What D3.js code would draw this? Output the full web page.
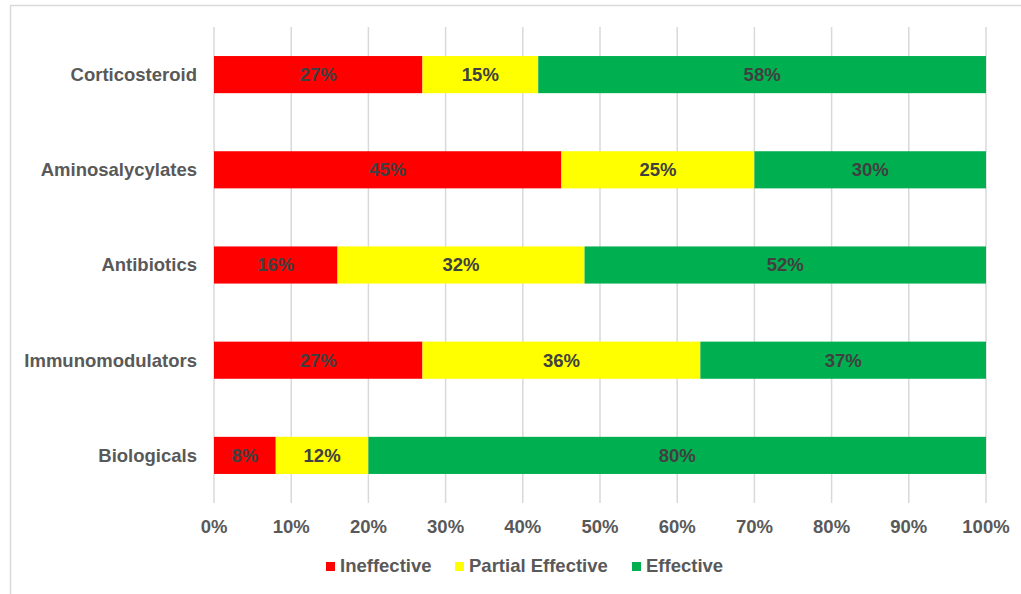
<!DOCTYPE html>
<html>
<head>
<meta charset="utf-8">
<script src="https://cdn.jsdelivr.net/npm/d3@7"></script>
<style>
  body { margin: 0; background: #fff; }
  text { font-family: "Liberation Sans", Arial, sans-serif; font-weight: bold; }
</style>
</head>
<body>
<svg id="chart"></svg>
<script>
const categories = ['Corticosteroid', 'Aminosalycylates', 'Antibiotics', 'Immunomodulators', 'Biologicals'];
const seriesNames = ['Ineffective', 'Partial Effective', 'Effective'];
const ineffective = [27, 45, 16, 27, 8];
const partial = [15, 25, 32, 36, 12];
const effective = [58, 30, 52, 37, 80];
const ticks = [0, 10, 20, 30, 40, 50, 60, 70, 80, 90, 100];
const colors = ['#ff0000', '#ffff00', '#00b050'];

const width = 1021;
const height = 594;
const plotLeft = 214, plotRight = 986, plotTop = 27, plotBottom = 503;
const fontSize = 18.5;

const svg = d3.select('#chart')
  .attr('width', width)
  .attr('height', height);

// frame (right and bottom edges fall outside the picture)
svg.append('rect')
  .attr('x', 10.5).attr('y', 5.5)
  .attr('width', 1030).attr('height', 600)
  .attr('fill', 'none')
  .attr('stroke', '#d9d9d9')
  .attr('stroke-width', 1.5);

const x = d3.scaleLinear().domain([0, 100]).range([plotLeft, plotRight]);
const y = d3.scaleBand().domain(categories).range([plotTop, plotBottom]).paddingInner(0.61).paddingOuter(0.305);

// gridlines
svg.append('g')
  .selectAll('line')
  .data(ticks)
  .enter()
  .append('line')
  .attr('x1', d => x(d)).attr('x2', d => x(d))
  .attr('y1', plotTop).attr('y2', plotBottom)
  .attr('stroke', '#d9d9d9')
  .attr('stroke-width', 1.5);

// tick labels
svg.append('g')
  .selectAll('text')
  .data(ticks)
  .enter()
  .append('text')
  .attr('x', d => x(d))
  .attr('y', 527)
  .attr('dy', '0.35em')
  .attr('text-anchor', 'middle')
  .attr('fill', '#595959')
  .attr('font-size', fontSize)
  .text(d => d + '%');

// stacks
const rows = categories.map((c, i) => ({ cat: c, v: [ineffective[i], partial[i], effective[i]] }));
rows.forEach(function (row) {
  let acc = 0;
  row.v.forEach(function (val, k) {
    const x0 = acc;
    acc += val;
    svg.append('rect')
      .attr('x', x(x0))
      .attr('y', y(row.cat))
      .attr('width', x(acc) - x(x0))
      .attr('height', y.bandwidth())
      .attr('fill', colors[k]);
    svg.append('text')
      .attr('x', (x(x0) + x(acc)) / 2)
      .attr('y', y(row.cat) + y.bandwidth() / 2)
      .attr('dy', '0.35em')
      .attr('text-anchor', 'middle')
      .attr('fill', '#404040')
      .attr('font-size', fontSize)
      .text(val + '%');
  });
});

// category labels
svg.append('g')
  .selectAll('text')
  .data(categories)
  .enter()
  .append('text')
  .attr('x', 197)
  .attr('y', d => y(d) + y.bandwidth() / 2)
  .attr('dy', '0.35em')
  .attr('text-anchor', 'end')
  .attr('fill', '#595959')
  .attr('font-size', fontSize)
  .text(d => d);

// legend
const legendX = [326, 455, 632];
const legend = svg.append('g')
  .selectAll('g')
  .data(seriesNames)
  .enter()
  .append('g')
  .attr('transform', (d, i) => `translate(${legendX[i]},566)`);
legend.append('rect')
  .attr('x', 0).attr('y', -4)
  .attr('width', 9).attr('height', 9)
  .attr('fill', (d, i) => colors[i]);
legend.append('text')
  .attr('x', 14).attr('y', 0)
  .attr('dy', '0.35em')
  .attr('fill', '#595959')
  .attr('font-size', fontSize)
  .text(d => d);
</script>
</body>
</html>
